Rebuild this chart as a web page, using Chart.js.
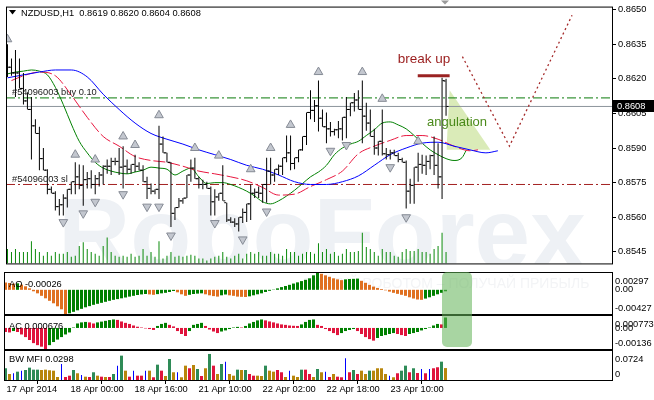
<!DOCTYPE html>
<html><head><meta charset="utf-8">
<script src="https://cdn.jsdelivr.net/npm/chart.js@4.4.1/dist/chart.umd.min.js"></script>
<style>
html,body{margin:0;padding:0;background:#fff;}
#wrap{position:relative;width:654px;height:400px;overflow:hidden;background:#fff;}
#wrap canvas{position:absolute;left:0;}
</style></head><body>
<div id="wrap">
<canvas id="cMain" width="654" height="271" style="top:0px"></canvas>
<canvas id="cAO" width="654" height="43" style="top:272px"></canvas>
<canvas id="cAC" width="654" height="35" style="top:315px"></canvas>
<canvas id="cMFI" width="654" height="50" style="top:350px"></canvas>
</div>
<script>
// ---------------- DATA ----------------
const symbolTitle = "NZDUSD,H1  0.8619 0.8620 0.8604 0.8608";
const barOpen = [.86275,.86250,.86225,.86225,.86158,.86104,.86067,.85996,.85963,.85854,
.85804,.85721,.85704,.85646,.85654,.85683,.85721,.85754,.85775,.85738,
.85763,.85767,.85742,.85767,.85783,.85821,.85821,.85842,.85842,.85817,
.85821,.85808,.85829,.85821,.85804,.85754,.85725,.85713,.85721,.85917,
.85879,.85838,.85617,.85642,.85671,.85683,.85783,.85813,.85767,.85742,
.85742,.85725,.85667,.85688,.85704,.85663,.85588,.85579,.85571,.85600,
.85621,.85658,.85704,.85708,.85704,.85742,.85800,.85783,.85808,.85821,
.85858,.85879,.85833,.85858,.85892,.85950,.86054,.86063,.86083,.86029,
.85992,.85983,.85971,.85979,.85983,.86033,.86067,.86096,.86108,.86067,
.86038,.86008,.85950,.85900,.85929,.85875,.85871,.85879,.85867,.85850,
.85838,.85713,.85738,.85817,.85829,.85825,.85842,.85867,.85825,.85775,
.8619];
const barHigh = [.86350,.86288,.86325,.86288,.86225,.86142,.86121,.86025,.85992,.85900,
.85808,.85733,.85713,.85679,.85700,.85721,.85754,.85838,.85829,.85825,
.85796,.85804,.85783,.85796,.85825,.85850,.85858,.85858,.85900,.85908,
.85850,.85829,.85871,.85838,.85825,.85775,.85746,.85721,.85996,.85950,
.85879,.85838,.85642,.85683,.85683,.85783,.85850,.85858,.85775,.85763,
.85754,.85733,.85721,.85704,.85825,.85663,.85600,.85596,.85600,.85638,
.85658,.85742,.85725,.85733,.85742,.85858,.85858,.85808,.85829,.85858,
.85954,.85954,.85858,.85892,.85950,.86054,.86150,.86108,.86192,.86067,
.86054,.86013,.85983,.86017,.86033,.86121,.86096,.86138,.86150,.86192,
.86096,.86067,.85983,.85929,.86067,.85900,.85892,.85892,.85879,.85858,
.85846,.85767,.85817,.85879,.85871,.85867,.85871,.85950,.85921,.86204,
.8620];
const barLow = [.86208,.86213,.86121,.86158,.86088,.86067,.85850,.85963,.85804,.85804,
.85700,.85704,.85629,.85608,.85608,.85642,.85700,.85700,.85721,.85650,
.85725,.85725,.85700,.85733,.85742,.85788,.85783,.85825,.85783,.85725,
.85788,.85788,.85796,.85804,.85754,.85679,.85700,.85700,.85679,.85879,
.85838,.85558,.85588,.85642,.85658,.85683,.85754,.85767,.85725,.85721,
.85725,.85608,.85608,.85671,.85671,.85579,.85575,.85558,.85538,.85575,
.85579,.85588,.85683,.85683,.85663,.85663,.85742,.85754,.85783,.85783,
.85838,.85804,.85808,.85838,.85888,.85913,.86025,.86013,.85971,.85992,
.85921,.85950,.85954,.85942,.85933,.85942,.86038,.86058,.86067,.85921,
.85975,.85950,.85871,.85867,.85867,.85850,.85850,.85867,.85838,.85838,
.85638,.85658,.85658,.85754,.85788,.85783,.85808,.85783,.85725,.85679,
.8604];
const barClose = [.86250,.86225,.86225,.86158,.86104,.86067,.85996,.85963,.85854,.85804,
.85721,.85704,.85646,.85654,.85683,.85721,.85754,.85775,.85738,.85763,
.85767,.85742,.85767,.85783,.85821,.85821,.85842,.85842,.85817,.85821,
.85808,.85829,.85821,.85804,.85754,.85725,.85713,.85721,.85917,.85879,
.85838,.85617,.85642,.85671,.85683,.85783,.85813,.85767,.85742,.85742,
.85725,.85667,.85688,.85704,.85671,.85588,.85579,.85571,.85600,.85621,
.85658,.85704,.85708,.85704,.85742,.85800,.85783,.85808,.85821,.85858,
.85879,.85833,.85858,.85892,.85950,.86054,.86063,.86083,.86029,.85992,
.85983,.85971,.85979,.85983,.86033,.86067,.86096,.86108,.86067,.86038,
.86008,.85950,.85900,.85929,.85875,.85871,.85879,.85867,.85850,.85838,
.85713,.85738,.85817,.85829,.85825,.85842,.85867,.85825,.85775,.86192,
.8608];
const tickVolume = [900,720,900,720,720,720,1380,900,720,480,
720,480,720,600,600,720,420,480,1080,1320,
900,720,600,480,1080,1620,720,480,420,480,
420,600,420,480,900,480,720,420,1380,300,
480,720,420,480,420,480,540,480,300,300,
180,300,420,480,720,420,300,480,600,300,
600,720,600,720,480,480,720,600,600,480,
900,720,720,480,600,720,720,600,1260,720,
900,600,720,480,600,900,720,720,780,1920,
1020,900,720,480,900,720,720,480,420,720,
900,780,780,900,720,720,600,900,1080,1920,
720];
// Alligator (shifted forward)
const jawIdx = [0,4,8,12,16,20,24,28,32,36,40,44,48,52,56,60,64,68,72,76,80,84,88,92,96,100,104,108,112,116,120,123];
const jawVal = [.86204,.86217,.86229,.86238,.86238,.86208,.86133,.86067,.86008,.85963,.85938,.85917,.85892,.85871,.85850,.85825,.85808,.85783,.85754,.85742,.85742,.85754,.85779,.85825,.85871,.85900,.85921,.85925,.85908,.85892,.85879,.85888];
const teethIdx = [1,4,8,12,16,20,24,28,32,36,40,44,48,52,56,60,64,68,72,76,80,84,88,92,96,100,104,108,112,116,118];
const teethVal = [.86192,.86213,.86229,.86213,.86129,.86033,.85950,.85908,.85863,.85846,.85838,.85821,.85800,.85788,.85775,.85758,.85729,.85696,.85700,.85733,.85763,.85800,.85875,.85908,.85933,.85954,.85954,.85938,.85908,.85888,.85892];
const lipsIdx = [0,2,4,6,8,10,12,14,16,18,20,22,24,26,28,30,32,34,36,38,40,42,44,46,48,50,52,54,56,58,60,62,64,66,68,70,72,74,76,78,80,82,84,86,88,90,92,94,96,98,100,102,104,106,108,110,112,114,115];
const lipsVal = [.86221,.86229,.86233,.86238,.86233,.86217,.86163,.86088,.86004,.85929,.85879,.85838,.85813,.85800,.85792,.85788,.85796,.85804,.85817,.85813,.85808,.85783,.85800,.85813,.85775,.85746,.85750,.85750,.85742,.85729,.85713,.85692,.85667,.85658,.85671,.85692,.85717,.85746,.85775,.85796,.85825,.85871,.85900,.85917,.85929,.85954,.85979,.86008,.86013,.86000,.85983,.85954,.85921,.85892,.85871,.85854,.85846,.85858,.85888];
// Fractals (arrow levels)
const fractalUpIdx = [0,17,22,29,32,38,47,53,61,66,71,78,89,94,103];
const fractalUpPrice = [.86371,.85871,.85850,.85950,.85913,.86042,.85900,.85867,.85808,.85900,.86000,.86229,.86229,.86113,.85929];
const fractalDnIdx = [14,19,22,29,35,38,41,52,59,65,81,85,96,100];
const fractalDnPrice = [.85579,.85617,.85667,.85700,.85646,.85646,.85521,.85575,.85504,.85625,.85888,.85913,.85817,.85600];
// Order levels
const buyLevel = 0.86117, slLevel = 0.85742, currentPrice = 0.8608;
const buyLabel = "#54096003 buy 0.10", slLabel = "#54096003 sl";
// Annotations (data coordinates: bar index, price)
const breakUpLine = [[102.9,0.86213],[110.9,0.86213]];
const angulationTri = [[110.1,0.85892],[110.9,0.86150],[121.1,0.85892]];
const projectionPath = [[114.1,0.86296],[125.9,0.85908],[141.6,0.86475]];
// Price axis
const priceTicks = [0.8545,0.8560,0.8575,0.8590,0.8605,0.8620,0.8635,0.8650];
// Time axis
const timeTickIdx = [0,16,32,48,64,80,96];
const timeLabels = ["17 Apr 2014","18 Apr 00:00","18 Apr 16:00","21 Apr 10:00","22 Apr 02:00","22 Apr 18:00","23 Apr 10:00"];
// Awesome Oscillator
const aoValues = [0.00129,0.00120,0.00109,0.00115,0.00092,0.00062,0.00026,-0.00026,-0.00062,-0.00106,
-0.00150,-0.00194,-0.00238,-0.00291,-0.00344,-0.00427,-0.00415,-0.00389,-0.00362,-0.00336,
-0.00309,-0.00288,-0.00265,-0.00247,-0.00230,-0.00212,-0.00194,-0.00177,-0.00164,-0.00150,
-0.00136,-0.00120,-0.00106,-0.00092,-0.00081,-0.00074,-0.00081,-0.00088,-0.00076,-0.00062,
-0.00053,-0.00039,-0.00021,-0.00044,-0.00079,-0.00106,-0.00088,-0.00074,-0.00067,-0.00062,
-0.00079,-0.00097,-0.00111,-0.00120,-0.00097,-0.00083,-0.00097,-0.00106,-0.00120,-0.00124,
-0.00127,-0.00115,-0.00097,-0.00079,-0.00062,-0.00039,-0.00018,0.00005,0.00026,0.00048,
0.00067,0.00088,0.00111,0.00132,0.00154,0.00177,0.00203,0.00256,0.00297,0.00283,
0.00256,0.00230,0.00203,0.00185,0.00171,0.00185,0.00191,0.00194,0.00198,0.00159,
0.00124,0.00088,0.00057,0.00032,0.00014,-0.00009,-0.00032,-0.00053,-0.00071,-0.00088,
-0.00106,-0.00132,-0.00154,-0.00171,-0.00177,-0.00155,-0.00132,-0.00106,-0.00079,-0.00053,
-0.00026];
const aoRange = [-0.00427, 0.00297];
// Accelerator Oscillator
const acValues = [-0.00026,-0.00029,-0.00020,-0.00026,-0.00042,-0.00059,-0.00078,-0.00098,-0.00111,-0.00121,
-0.00136,-0.00111,-0.00091,-0.00075,-0.00059,-0.00042,-0.00029,0.00003,0.00029,0.00036,
0.00039,0.00036,0.00029,0.00036,0.00041,0.00046,0.00051,0.00055,0.00052,0.00042,
0.00033,0.00026,0.00016,0.00008,0.00003,-0.00003,-0.00007,-0.00013,0.00013,0.00026,
0.00033,0.00020,0.00010,-0.00020,-0.00039,-0.00052,-0.00020,0.00020,0.00026,0.00033,
0.00013,-0.00010,-0.00023,-0.00033,-0.00023,-0.00016,-0.00007,0.00003,0.00007,0.00003,
0.00013,0.00029,0.00039,0.00049,0.00055,0.00049,0.00042,0.00036,0.00029,0.00023,
0.00020,0.00016,0.00014,0.00013,0.00023,0.00039,0.00052,0.00055,0.00020,0.00013,
-0.00007,-0.00020,-0.00033,-0.00046,-0.00033,-0.00020,-0.00013,-0.00007,-0.00020,-0.00039,
-0.00059,-0.00072,-0.00082,-0.00065,-0.00052,-0.00046,-0.00039,-0.00033,-0.00039,-0.00046,
-0.00052,-0.00039,-0.00033,-0.00026,-0.00016,-0.00007,0.00003,0.00016,0.00026,0.00023,
0.000676];
const acRange = [-0.00136, 0.000773];
// Market Facilitation Index
const mfiValues = [0.0293,0.0150,0.0168,0.0208,0.0233,0.0250,0.0308,0.0258,0.0258,0.0250,
0.0258,0.0243,0.0233,0.0075,0.0400,0.0075,0.0108,0.0250,0.0168,0.0125,
0.0083,0.0075,0.0193,0.0108,0.0083,0.0075,0.0075,0.0150,0.0358,0.0608,
0.0233,0.0083,0.0233,0.0108,0.0108,0.0233,0.0233,0.0068,0.0383,0.0233,
0.0100,0.0525,0.0193,0.0193,0.0068,0.0358,0.0293,0.0375,0.0275,0.0100,
0.0293,0.0650,0.0358,0.0150,0.0400,0.0458,0.0150,0.0108,0.0258,0.0250,
0.0250,0.0150,0.0108,0.0108,0.0100,0.0358,0.0233,0.0208,0.0250,0.0193,
0.0075,0.0233,0.0108,0.0075,0.0258,0.0258,0.0150,0.0075,0.0275,0.0193,
0.0208,0.0075,0.0150,0.0083,0.0068,0.0543,0.0193,0.0250,0.0150,0.0233,
0.0150,0.0233,0.0233,0.0293,0.0293,0.0150,0.0108,0.0068,0.0168,0.0233,
0.0358,0.0193,0.0293,0.0175,0.0275,0.0168,0.0275,0.0293,0.0318,0.0458,
0.0298];
const mfiColorCodes = "gubgbggggu"+"uuuubrrgub"+"urgururgbg"+"urbrrburgr"+"ugubuurugr"+"ugrugbuugu"+"grruuguurr"+"ubuugrrugu"+"brurrbrgru"+"uguuuuburg"+"grgrbrbrrg"+"u";
const mfiRange = [0, 0.0724];

// ---------------- STYLE / SETUP ----------------
const FONT_FAMILY = '"Liberation Sans", Arial, sans-serif';
const FONT = '9.3px ' + FONT_FAMILY;
Chart.defaults.font.family = FONT_FAMILY;
Chart.defaults.font.size = 9.3;
Chart.defaults.color = '#000';
Chart.defaults.animation = false;
Chart.defaults.plugins.legend.display = false;
Chart.defaults.plugins.tooltip.enabled = false;
Chart.defaults.events = [];

const X_MIN = -0.375, X_MAX = 151.625;
const xScaleHidden = { type:'linear', min:X_MIN, max:X_MAX, display:false, offset:false };
const PANEL_PAD = { left:4, right:42, top:1, bottom:1 };
const HL = { x:442, y:272, w:30, h:75, r:5 };

const pts = (xs, ys) => xs.map((x,i)=>({x, y:ys[i]}));
const pairs = arr => arr.map(p=>({x:p[0], y:p[1]}));

// ---------------- MAIN CHART ----------------
const mainPlugin = {
  id:'mainDecor',
  beforeDatasetsDraw(chart){
    const {ctx, chartArea:a} = chart;
    ctx.save();
    ctx.beginPath(); ctx.rect(a.left, a.top, a.right-a.left, a.bottom-a.top); ctx.clip();
    ctx.fillStyle = '#eef1f5';
    ctx.font = 'bold 100px ' + FONT_FAMILY;
    ctx.textBaseline = 'alphabetic'; ctx.textAlign = 'left';
    ctx.fillText('RoboForex', 58, 268);
    ctx.restore();
  },
  afterDraw(chart){
    const {ctx, chartArea:a, scales} = chart;
    ctx.save();
    ctx.strokeStyle = '#000'; ctx.lineWidth = 1;
    ctx.strokeRect(a.left+0.5, a.top-0.5, a.right-a.left, a.bottom-a.top+1);
    // header
    ctx.fillStyle = '#000';
    ctx.beginPath(); ctx.moveTo(9,10); ctx.lineTo(16,10); ctx.lineTo(12.5,14.5); ctx.closePath(); ctx.fill();
    ctx.font = FONT; ctx.textBaseline = 'middle'; ctx.textAlign = 'left';
    ctx.fillText(symbolTitle, 21, 13);
    // order labels
    ctx.fillStyle = '#222';
    ctx.textBaseline = 'alphabetic';
    ctx.fillText(buyLabel, 12, scales.y.getPixelForValue(buyLevel) - 3);
    ctx.fillText(slLabel, 12, scales.y.getPixelForValue(slLevel) - 2);
    // annotations
    ctx.textAlign = 'center'; ctx.textBaseline = 'middle';
    ctx.font = '13.5px ' + FONT_FAMILY; ctx.fillStyle = '#9a1c1c';
    ctx.fillText('break up', 424, 59);
    ctx.font = '13px ' + FONT_FAMILY; ctx.fillStyle = '#4a8a1a';
    ctx.fillText('angulation', 457, 122);
    // shift marker
    ctx.fillStyle = '#9a9a9a';
    ctx.beginPath(); ctx.moveTo(441,0.5); ctx.lineTo(449,0.5); ctx.lineTo(445,4.5); ctx.closePath(); ctx.fill();
    // current price box
    const py = scales.y.getPixelForValue(currentPrice);
    ctx.fillStyle = '#000';
    ctx.fillRect(613, Math.round(py)-6, 41, 12);
    ctx.fillStyle = '#fff'; ctx.font = FONT; ctx.textAlign='left';
    ctx.fillText(currentPrice.toFixed(4), 617, Math.round(py));
    ctx.restore();
  }
};

const hLine = (level, color, dash) => ({
  type:'line', data:[{x:X_MIN,y:level},{x:X_MAX,y:level}], borderColor:color, borderWidth:1,
  borderDash:dash, pointRadius:0, order:15
});

new Chart(document.getElementById('cMain'), {
  type:'scatter',
  data:{ datasets:[
    { type:'line', data:pairs(angulationTri), fill:{value:angulationTri[0][1]}, backgroundColor:'rgba(205,228,160,0.75)',
      borderWidth:0, pointRadius:0, order:20 },
    { type:'bar', data:pts(barOpen.map((_,i)=>i), tickVolume), yAxisID:'vol', backgroundColor:'#0b8a0b',
      barThickness:1, grouped:false, inflateAmount:0, order:19 },
    hLine(buyLevel, '#0a7a0a', [9,3,2,3]),
    hLine(slLevel, '#a32020', [9,3,2,3]),
    hLine(currentPrice, '#8c949c', []),
    { type:'line', data:pts(jawIdx, jawVal), borderColor:'#0000ff', borderWidth:1, pointRadius:0, cubicInterpolationMode:'monotone', order:10 },
    { type:'line', data:pts(teethIdx, teethVal), borderColor:'#e8173f', borderWidth:1, borderDash:[12,3], pointRadius:0, cubicInterpolationMode:'monotone', order:10 },
    { type:'line', data:pts(lipsIdx, lipsVal), borderColor:'#008000', borderWidth:1, pointRadius:0, cubicInterpolationMode:'monotone', order:10 },
    { type:'bar', data:barHigh.map((h,i)=>({x:i, y:[barLow[i], h]})), backgroundColor:'#000',
      barThickness:1, grouped:false, inflateAmount:0, order:5 },
    { type:'scatter', data:barOpen.map((v,i)=>({x:i-0.375, y:v})), pointStyle:'line', pointRadius:1,
      borderColor:'#000', pointBorderWidth:1, order:4 },
    { type:'scatter', data:barClose.map((v,i)=>({x:i+0.375, y:v})), pointStyle:'line', pointRadius:1,
      borderColor:'#000', pointBorderWidth:1, order:4 },
    { type:'scatter', data:pts(fractalUpIdx, fractalUpPrice), pointStyle:'triangle', pointRadius:5, rotation:0,
      backgroundColor:'#c3c7cf', borderColor:'#868b95', pointBorderWidth:1, order:3 },
    { type:'scatter', data:pts(fractalDnIdx, fractalDnPrice), pointStyle:'triangle', pointRadius:5, rotation:180,
      backgroundColor:'#c3c7cf', borderColor:'#868b95', pointBorderWidth:1, order:3 },
    { type:'line', data:pairs(breakUpLine), borderColor:'#9a2222', borderWidth:3, pointRadius:0, order:2 },
    { type:'line', data:pairs(projectionPath), borderColor:'#a52a2a', borderWidth:1.3, borderDash:[2,3], pointRadius:0, order:2 }
  ]},
  options:{
    responsive:false,
    layout:{ padding:{ left:4, top:4, right:0, bottom:1 } },
    scales:{
      x: xScaleHidden,
      y: { position:'right', min:0.8540, max:0.86508333,
        afterBuildTicks: s => { s.ticks = priceTicks.map(v=>({value:v})); },
        afterFit: s => { s.width = 42; },
        ticks:{ autoSkip:false, padding:2, font:{size:9.3}, color:'#000', callback: v => Number(v).toFixed(4) },
        grid:{ drawOnChartArea:false, drawTicks:true, tickLength:4, color:'#000' },
        border:{ display:false }
      },
      vol: { display:false, min:0, max:15960 }
    }
  },
  plugins:[mainPlugin]
});

// ---------------- INDICATOR PANELS ----------------
function panelPlugin(o){
  return {
    id:'panel_'+o.name,
    beforeDatasetsDraw(chart){
      if(!o.watermark) return;
      const {ctx} = chart;
      ctx.save();
      ctx.fillStyle = '#f3f4f6'; ctx.font = '14px ' + FONT_FAMILY;
      ctx.textAlign='left'; ctx.textBaseline='alphabetic';
      ctx.fillText(o.watermark, 304, 288 - o.top);
      ctx.restore();
    },
    afterDraw(chart){
      const {ctx, chartArea:a, scales:{y}} = chart;
      ctx.save();
      ctx.strokeStyle = '#000'; ctx.lineWidth = 1;
      ctx.strokeRect(a.left+0.5, a.top-0.5, a.right-a.left, a.bottom-a.top+1);
      ctx.fillStyle = '#000'; ctx.font = FONT; ctx.textAlign='left'; ctx.textBaseline='middle';
      ctx.fillText(o.title, 9, a.top + o.titleOffset);
      o.axisValues.forEach((v,k) => {
        let py = y.getPixelForValue(v);
        py = Math.min(Math.max(py, a.top + 8), a.bottom - 6);
        ctx.fillText(o.axisText[k], a.right + 3, py);
      });
      // green highlight box
      ctx.fillStyle = 'rgba(100,180,90,0.56)';
      ctx.beginPath();
      ctx.roundRect(HL.x, HL.y - o.top, HL.w, HL.h, HL.r);
      ctx.fill();
      ctx.restore();
    }
  };
}

function panelOptions(range){
  return {
    responsive:false,
    layout:{ padding: PANEL_PAD },
    scales:{
      x: xScaleHidden,
      y: { display:false, min:range[0], max:range[1] }
    }
  };
}

const GREEN = '#008000', ORANGE = '#e07020', RED = '#e0143c';

new Chart(document.getElementById('cAO'), {
  type:'bar',
  data:{ datasets:[{
    data: aoValues.map((v,i)=>({x:i, y:v})),
    backgroundColor: c => { const i = c.raw ? c.raw.x : 0; return (i>0 && aoValues[i] > aoValues[i-1]) ? GREEN : ORANGE; },
    barThickness:3, grouped:false, inflateAmount:0
  }]},
  options: panelOptions(aoRange),
  plugins:[panelPlugin({ name:'ao', top:272, title:'AO -0.00026', titleOffset:11,
    axisValues:[aoRange[1], 0, aoRange[0]], axisText:['0.00297','0.00','-0.00427'],
    watermark:'ТОРГУЙ РОБОТОМ – ПОЛУЧАЙ ПРИБЫЛЬ' })]
});

new Chart(document.getElementById('cAC'), {
  type:'bar',
  data:{ datasets:[{
    data: acValues.map((v,i)=>({x:i, y:v})),
    backgroundColor: c => { const i = c.raw ? c.raw.x : 0; return (i>0 && acValues[i] > acValues[i-1]) ? GREEN : RED; },
    barThickness:3, grouped:false, inflateAmount:0
  }]},
  options: panelOptions(acRange),
  plugins:[panelPlugin({ name:'ac', top:315, title:'AC 0.000676', titleOffset:10,
    axisValues:[acRange[1], 0, acRange[0]], axisText:['0.000773','0.00','-0.00136'] })]
});

const MFI_COLORS = { g:'#2e8b57', u:'#b8860b', r:'#e0143c', b:'#0000ff' };
const mfiCodes = mfiColorCodes.split('');
const mfiOpts = panelOptions(mfiRange);
mfiOpts.layout.padding = { left:4, right:42, top:1, bottom:0 };
mfiOpts.scales.x = {
  type:'linear', min:X_MIN, max:X_MAX, offset:false, position:'bottom',
  afterBuildTicks: s => { s.ticks = timeTickIdx.map(v=>({value:v})); },
  afterFit: s => { s.height = 20; },
  ticks:{ autoSkip:false, maxRotation:0, minRotation:0, align:'start', labelOffset:1, padding:0,
    font:{size:9.3}, color:'#000', callback:(v,k)=>timeLabels[k] },
  grid:{ drawOnChartArea:false, drawTicks:true, tickLength:4, color:'#000' },
  border:{ display:false }
};
new Chart(document.getElementById('cMFI'), {
  type:'bar',
  data:{ datasets:[
    { data: mfiValues.map((v,i)=>({x:i,y:v})).filter((p,i)=>mfiCodes[i] !== 'b'),
      backgroundColor: c => c.raw ? MFI_COLORS[mfiCodes[c.raw.x]] : '#2e8b57',
      barThickness:3, grouped:false, inflateAmount:0 },
    { data: mfiValues.map((v,i)=>({x:i,y:v})).filter((p,i)=>mfiCodes[i] === 'b'),
      backgroundColor: MFI_COLORS.b, barThickness:1, grouped:false, inflateAmount:0 }
  ]},
  options: mfiOpts,
  plugins:[panelPlugin({ name:'mfi', top:350, title:'BW MFI 0.0298', titleOffset:8,
    axisValues:[mfiRange[1], 0], axisText:['0.0724','0'] })]
});
</script>
</body></html>
